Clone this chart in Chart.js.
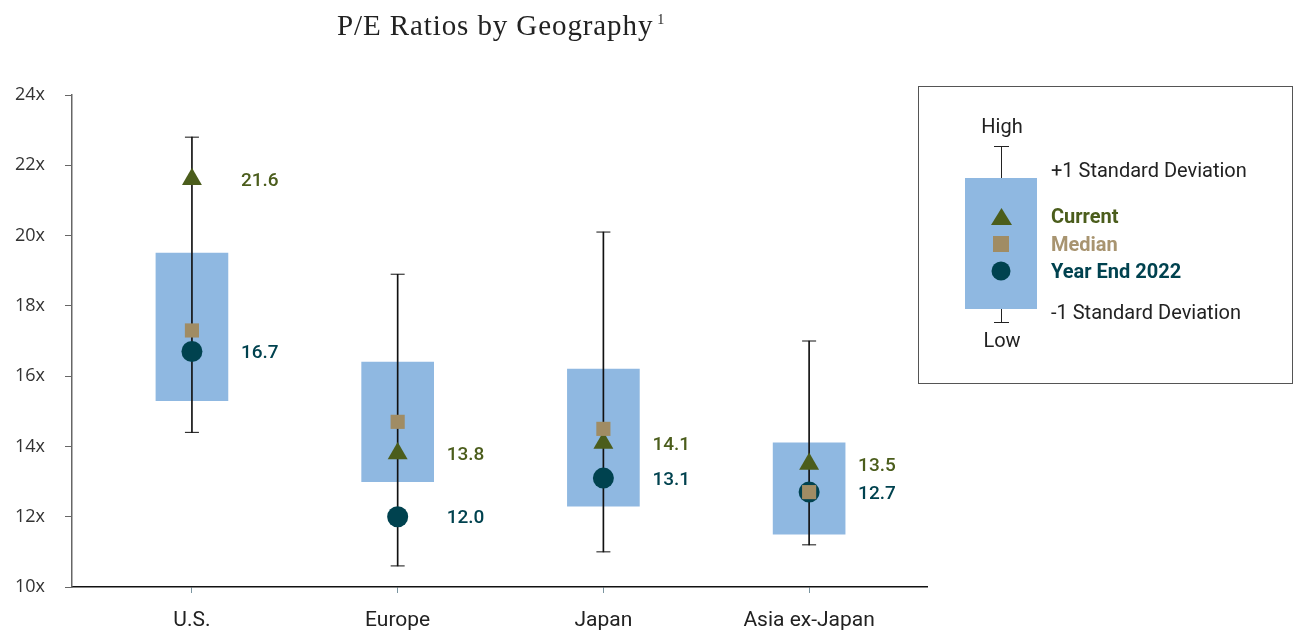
<!DOCTYPE html>
<html>
<head>
<meta charset="utf-8">
<script src="https://cdn.jsdelivr.net/npm/chart.js@4.4.1/dist/chart.umd.min.js"></script>
<style>
  html, body { margin: 0; padding: 0; background: #fff; }
  #wrap { position: relative; width: 1294px; height: 630px; overflow: hidden; }
  #chart { position: absolute; left: 0; top: 0; }
  .title {
    position: absolute; left: 337px; top: 5px;
    font-family: "Liberation Serif", serif; font-size: 29px; letter-spacing: 0.9px;
    color: #222; white-space: nowrap; line-height: 30px;
  }
  .title sup { font-size: 14px; vertical-align: 11px; letter-spacing: 0; margin-left: 4px; }
  .legend {
    position: absolute; left: 918px; top: 86px; width: 375px; height: 298px;
    border: 1.5px solid #555; box-sizing: border-box;
  }
  .legend svg { position: absolute; left: -1.5px; top: -1.5px; }
  .legend text { font-family: Roboto, sans-serif; font-size: 20px; fill: #222; }
  .legend text.b { font-weight: 700; }
</style>
</head>
<body>
<div id="wrap">
  <canvas id="chart" width="1294" height="630"></canvas>
  <div class="title">P/E Ratios by Geography<sup>1</sup></div>
  <div class="legend">
    <svg width="375" height="298">
      <line x1="83.5" y1="60" x2="83.5" y2="237" stroke="#222" stroke-width="1"/>
      <line x1="76" y1="60.5" x2="91" y2="60.5" stroke="#222" stroke-width="1"/>
      <line x1="76" y1="236.5" x2="91" y2="236.5" stroke="#222" stroke-width="1"/>
      <rect x="47" y="92" width="72" height="131" fill="#8FB8E1"/>
      <polygon points="83.5,122 73,139 94,139" fill="#4B5D1C"/>
      <rect x="75" y="150" width="16" height="16" fill="#A08C64"/>
      <circle cx="83" cy="185" r="9.5" fill="#00424F"/>
      <text x="84" y="47" text-anchor="middle">High</text>
      <text x="84" y="261" text-anchor="middle">Low</text>
      <text x="133" y="91">+1 Standard Deviation</text>
      <text x="133" y="137" class="b" style="fill:#4B5D1C">Current</text>
      <text x="133" y="165" class="b" style="fill:#A89470">Median</text>
      <text x="133" y="192" class="b" style="fill:#00424F">Year End 2022</text>
      <text x="133" y="233">-1 Standard Deviation</text>
    </svg>
  </div>
</div>
<script>
const categories = ["U.S.", "Europe", "Japan", "Asia ex-Japan"];
const highs = [22.8, 18.9, 20.1, 17.0];
const lows = [14.4, 10.6, 11.0, 11.2];
const sdUpper = [19.5, 16.4, 16.2, 14.1];
const sdLower = [15.3, 13.0, 12.3, 11.5];
const current = [21.6, 13.8, 14.1, 13.5];
const median = [17.3, 14.7, 14.5, 12.7];
const yearEnd2022 = [16.7, 12.0, 13.1, 12.7];
const yTicks = [10, 12, 14, 16, 18, 20, 22, 24];

const OLIVE = "#4B5D1C";
const TAN = "#A08C64";
const TEAL = "#00424F";
const BOX = "#8FB8E1";

function toPoints(vals) {
  return vals.map((v, i) => ({ x: i, y: v }));
}

function toRanges(lo, hi) {
  return lo.map((v, i) => ({ x: i, y: [v, hi[i]] }));
}

// value labels to the right of the triangle and circle markers
const valueLabels = {
  id: "valueLabels",
  afterDatasetsDraw(chart) {
    const ctx = chart.ctx;
    chart.data.datasets.forEach((ds, di) => {
      if (!ds.showValues) return;
      const meta = chart.getDatasetMeta(di);
      meta.data.forEach((pt, i) => {
        ctx.save();
        ctx.font = "500 19px Roboto";
        ctx.fillStyle = ds.backgroundColor;
        ctx.textBaseline = "middle";
        ctx.fillText(ds.data[i].y.toFixed(1), pt.x + 49, pt.y + 2);
        ctx.restore();
      });
    });
  },
};

new Chart(document.getElementById("chart"), {
  type: "bar",
  data: {
    datasets: [
      {
        type: "line",
        label: "Median",
        data: toPoints(median),
        showLine: false,
        pointStyle: "rect",
        pointRadius: 10,
        backgroundColor: TAN,
        borderColor: TAN,
        pointBorderWidth: 0,
        order: 0,
      },
      {
        type: "line",
        label: "Current",
        data: toPoints(current),
        showLine: false,
        pointStyle: "triangle",
        pointRadius: 11.5,
        backgroundColor: OLIVE,
        borderColor: OLIVE,
        pointBorderWidth: 0,
        showValues: true,
        order: 1,
      },
      {
        type: "line",
        label: "Year End 2022",
        data: toPoints(yearEnd2022),
        showLine: false,
        pointStyle: "circle",
        pointRadius: 10.5,
        backgroundColor: TEAL,
        borderColor: TEAL,
        pointBorderWidth: 0,
        showValues: true,
        order: 2,
      },
      {
        type: "bar",
        label: "High / Low",
        data: toRanges(lows, highs),
        barThickness: 1,
        backgroundColor: "#111",
        grouped: false,
        order: 3,
      },
      {
        type: "line",
        label: "Caps",
        data: [...toPoints(highs), ...toPoints(lows)],
        showLine: false,
        pointStyle: "line",
        pointRadius: 7,
        borderColor: "#111",
        pointBorderWidth: 1,
        order: 4,
      },
      {
        type: "bar",
        label: "+/-1 Standard Deviation",
        data: toRanges(sdLower, sdUpper),
        barThickness: 72,
        backgroundColor: BOX,
        grouped: false,
        order: 5,
      },
    ],
  },
  options: {
    responsive: false,
    animation: false,
    layout: { padding: { top: 95, right: 367, bottom: 0, left: 0 } },
    plugins: {
      legend: { display: false },
      tooltip: { enabled: false },
    },
    scales: {
      x: {
        type: "linear",
        min: -0.583,
        max: 3.573,
        offset: false,
        afterBuildTicks: (s) => {
          s.ticks = categories.map((c, i) => ({ value: i }));
        },
        afterFit: (s) => {
          s.height = 43;
        },
        ticks: {
          callback: (v) => categories[v],
          font: { family: "Roboto, sans-serif", size: 21 },
          color: "#222",
          padding: 15,
          autoSkip: false,
          maxRotation: 0,
        },
        grid: { offset: false, drawOnChartArea: false, tickLength: 6, color: "#7a95a0" },
        border: { display: true, color: "#111", width: 1.5 },
      },
      y: {
        type: "linear",
        min: 10,
        max: 24,
        afterBuildTicks: (s) => {
          s.ticks = yTicks.map((v) => ({ value: v }));
        },
        afterFit: (s) => {
          s.width = 72;
        },
        ticks: {
          callback: (v) => v + "x",
          font: { family: '"Open Sans", sans-serif', size: 18 },
          color: "#333",
          padding: 20,
        },
        grid: { drawOnChartArea: false, tickLength: 7, color: "#666" },
        border: { display: true, color: "#666", width: 1.5 },
      },
    },
  },
  plugins: [valueLabels],
});
</script>
</body>
</html>
